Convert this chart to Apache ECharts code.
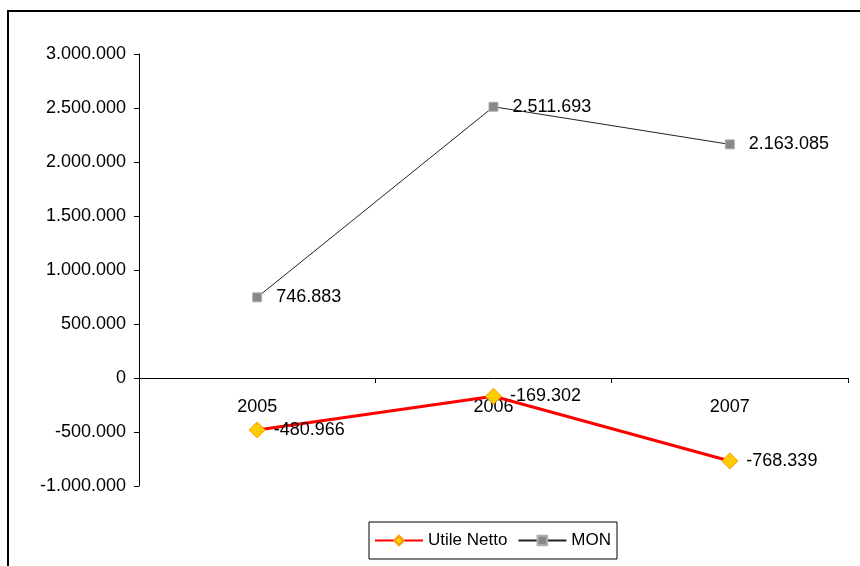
<!DOCTYPE html>
<html>
<head>
<meta charset="utf-8">
<script src="https://cdn.jsdelivr.net/npm/echarts@6/dist/echarts.min.js"></script>
<style>
  html, body { margin: 0; padding: 0; background: #fff; }
  #chart { width: 860px; height: 566px; }
</style>
</head>
<body>
<div id="chart"></div>
<script>
// Anni di riferimento
const years = ['2005', '2006', '2007'];
// Utile netto per anno
const utileNetto = [-480966, -169302, -768339];
// Margine operativo netto per anno
const mon = [746883, 2511693, 2163085];
// Scala dell'asse verticale
const yMin = -1000000;
const yMax = 3000000;
const yStep = 500000;

// Formato italiano con punto come separatore delle migliaia
function fmt(v) {
  const s = Math.abs(Math.round(v)).toString().replace(/\B(?=(\d{3})+(?!\d))/g, '.');
  return (v < 0 ? '-' : '') + s;
}

const FONT = 'Liberation Sans, Arial, sans-serif';
const NUM_SIZE = 18;
const chart = echarts.init(document.getElementById('chart'), null, { renderer: 'canvas' });

chart.setOption({
  animation: false,
  backgroundColor: '#ffffff',
  textStyle: { fontFamily: FONT, color: '#000' },
  graphic: [{
    type: 'rect',
    shape: { x: 8, y: 11, width: 900, height: 600 },
    style: { fill: 'none', stroke: '#000', lineWidth: 2 },
    silent: true
  }],
  grid: { left: 139, right: 12, top: 54, bottom: 80, containLabel: false },
  legend: {
    left: 369,
    top: 522,
    orient: 'horizontal',
    borderColor: '#000',
    borderWidth: 1,
    padding: [10, 6, 10, 5],
    itemWidth: 48,
    itemHeight: 12,
    itemGap: 10,
    textStyle: { fontFamily: FONT, fontSize: 17, color: '#000' },
    data: ['Utile Netto', 'MON']
  },
  xAxis: {
    type: 'category',
    data: years,
    boundaryGap: true,
    offset: 0,
    axisLine: { onZero: false, lineStyle: { color: '#000', width: 1 } },
    axisTick: { show: true, inside: false, length: 5, lineStyle: { color: '#000' } },
    axisLabel: { fontFamily: FONT, fontSize: NUM_SIZE, color: '#000', margin: 20 },
    splitLine: { show: false }
  },
  yAxis: {
    type: 'value',
    min: yMin,
    max: yMax,
    interval: yStep,
    axisLine: { show: true, lineStyle: { color: '#000', width: 1 } },
    axisTick: { show: true, length: 5, lineStyle: { color: '#000' } },
    axisLabel: { fontFamily: FONT, fontSize: NUM_SIZE, color: '#000', margin: 13, formatter: fmt },
    splitLine: { show: false }
  },
  series: [
    {
      name: 'Utile Netto',
      type: 'line',
      data: utileNetto,
      z: 3,
      symbol: 'diamond',
      symbolSize: 16,
      lineStyle: { color: '#ff0000', width: 3 },
      itemStyle: { color: '#ffcc00', borderColor: '#ff9900', borderWidth: 1 },
      label: {
        show: true,
        position: 'right',
        distance: 8,
        fontFamily: FONT,
        fontSize: NUM_SIZE,
        color: '#000',
        formatter: p => fmt(p.value)
      }
    },
    {
      name: 'MON',
      type: 'line',
      data: mon,
      z: 2,
      symbol: 'rect',
      symbolSize: 9,
      lineStyle: { color: '#222222', width: 1 },
      itemStyle: { color: '#888888', borderColor: '#b0b0b0', borderWidth: 1 },
      label: {
        show: true,
        position: 'right',
        distance: 14,
        fontFamily: FONT,
        fontSize: NUM_SIZE,
        color: '#000',
        formatter: p => fmt(p.value)
      }
    }
  ]
});

// Sposta l'asse delle categorie (linea, tacche ed etichette) sulla quota zero
const gridRect = chart.getModel().getComponent('grid').coordinateSystem.getRect();
const zeroY = chart.convertToPixel({ yAxisIndex: 0 }, 0);
chart.setOption({ xAxis: { offset: -((gridRect.y + gridRect.height) - zeroY) } });
</script>
</body>
</html>
